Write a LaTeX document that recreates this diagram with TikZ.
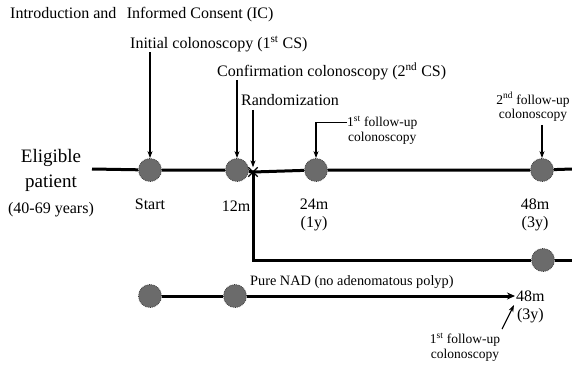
\documentclass[tikz,border=0pt]{standalone}
\usepackage{fontspec}
\setmainfont{Liberation Serif}
\usetikzlibrary{positioning,calc,arrows.meta,shapes.misc}

\begin{document}
\begin{tikzpicture}[x=1pt, y=-1pt, font=\fontsize{16}{18}\selectfont,
        visit/.style={circle, minimum size=23pt, inner sep=0pt, fill=black!58, draw=black!78, densely dotted, line width=0.8pt},
        timeline/.style={line width=3pt},
        arr/.style={line width=1.1pt, -{Stealth[length=7pt,width=5pt]}},
        txt/.style={inner sep=0pt},
        lbl/.style={align=center, inner sep=0pt},
        small/.style={font=\fontsize{13.5}{14.5}\selectfont}]
  \useasboundingbox (0,0) rectangle (572,364);
  % headings with their arrows
  \node[txt, anchor=west] (intro) at (10,15) {Introduction and\hspace{0.4em} Informed Consent (IC)};
  \node[txt, anchor=west] (initcs) at (130,44) {Initial colonoscopy (1\textsuperscript{st} CS)};
  \node[txt, anchor=west] (confcs) at (217,71) {Confirmation colonoscopy (2\textsuperscript{nd} CS)};
  \node[txt, anchor=west] (rand) at (241,100) {Randomization};
  \node[lbl, small, anchor=west] (fu1) at (347,130) {1\textsuperscript{st} follow-up\\colonoscopy};
  \node[lbl, small] (fu2) at (533,107) {2\textsuperscript{nd} follow-up\\colonoscopy};
  \node[lbl, font=\fontsize{19}{25}\selectfont] (elig) at (51,170) {Eligible\\patient};
  \node[txt] (age) at (51,210) {(40-69 years)};
  % visits on the main line
  \coordinate (mstart) at (92,169);
  \coordinate (mend) at (572,169);
  \node[visit] (c0) at (150,170) {};
  \node[visit] (c12) at (237,170) {};
  \node[cross out, draw, line width=1.3pt, minimum size=8pt, inner sep=0pt] (rx) at (253,172) {};
  \node[visit] (c24) at (316,170) {};
  \node[visit] (c48) at (542,170) {};
  \node[txt] (l0) at (150,204) {Start};
  \node[txt] (l12) at (236,206) {12m};
  \node[lbl] (l24) at (314,215) {24m\\(1y)};
  \node[lbl] (l48) at (535,215) {48m\\(3y)};
  \draw[timeline] (mstart) -- (c0) -- (c12) -- (rx.center) -- (c24) -- (c48) -- (mend);
  % branch after randomization
  \node[visit] (c48b) at (543,260) {};
  \coordinate (bend) at (572,260);
  \draw[timeline] (rx.center) |- (c48b) -- (bend);
  % pure NAD
  \node[visit] (n0) at (150,296) {};
  \node[visit] (n12) at (235,296) {};
  \coordinate (nadend) at (515,296);
  \node[txt, font=\fontsize{14.3}{16}\selectfont, anchor=west] (nad) at (250,282) {Pure NAD (no adenomatous polyp)};
  \node[lbl, anchor=west] (n48) at (516,307) {48m\\(3y)};
  \node[lbl, small] (nfu) at (465,347) {1\textsuperscript{st} follow-up\\colonoscopy};
  \coordinate (nfutail) at (502,329);
  \coordinate (nfuhead) at (514,305);
  \draw[timeline] (n0) -- (n12);
  \draw[timeline, -{Stealth[length=8pt,width=7pt]}] (n12) -- (nadend);
  % arrows down to visits
  \draw[arr] (c0 |- initcs.south) -- (c0);
  \draw[arr] (c12 |- confcs.south) -- (c12);
  \draw[arr] ([yshift=-4pt]rx |- rand.south) -- (rx.north);
  \draw[arr] ([yshift=-7pt]fu1.north west) -| (c24);
  \draw[arr] ([yshift=-3pt]c48 |- fu2.south) -- (c48);
  \draw[arr] (nfutail) -- (nfuhead);
\end{tikzpicture}
\end{document}
